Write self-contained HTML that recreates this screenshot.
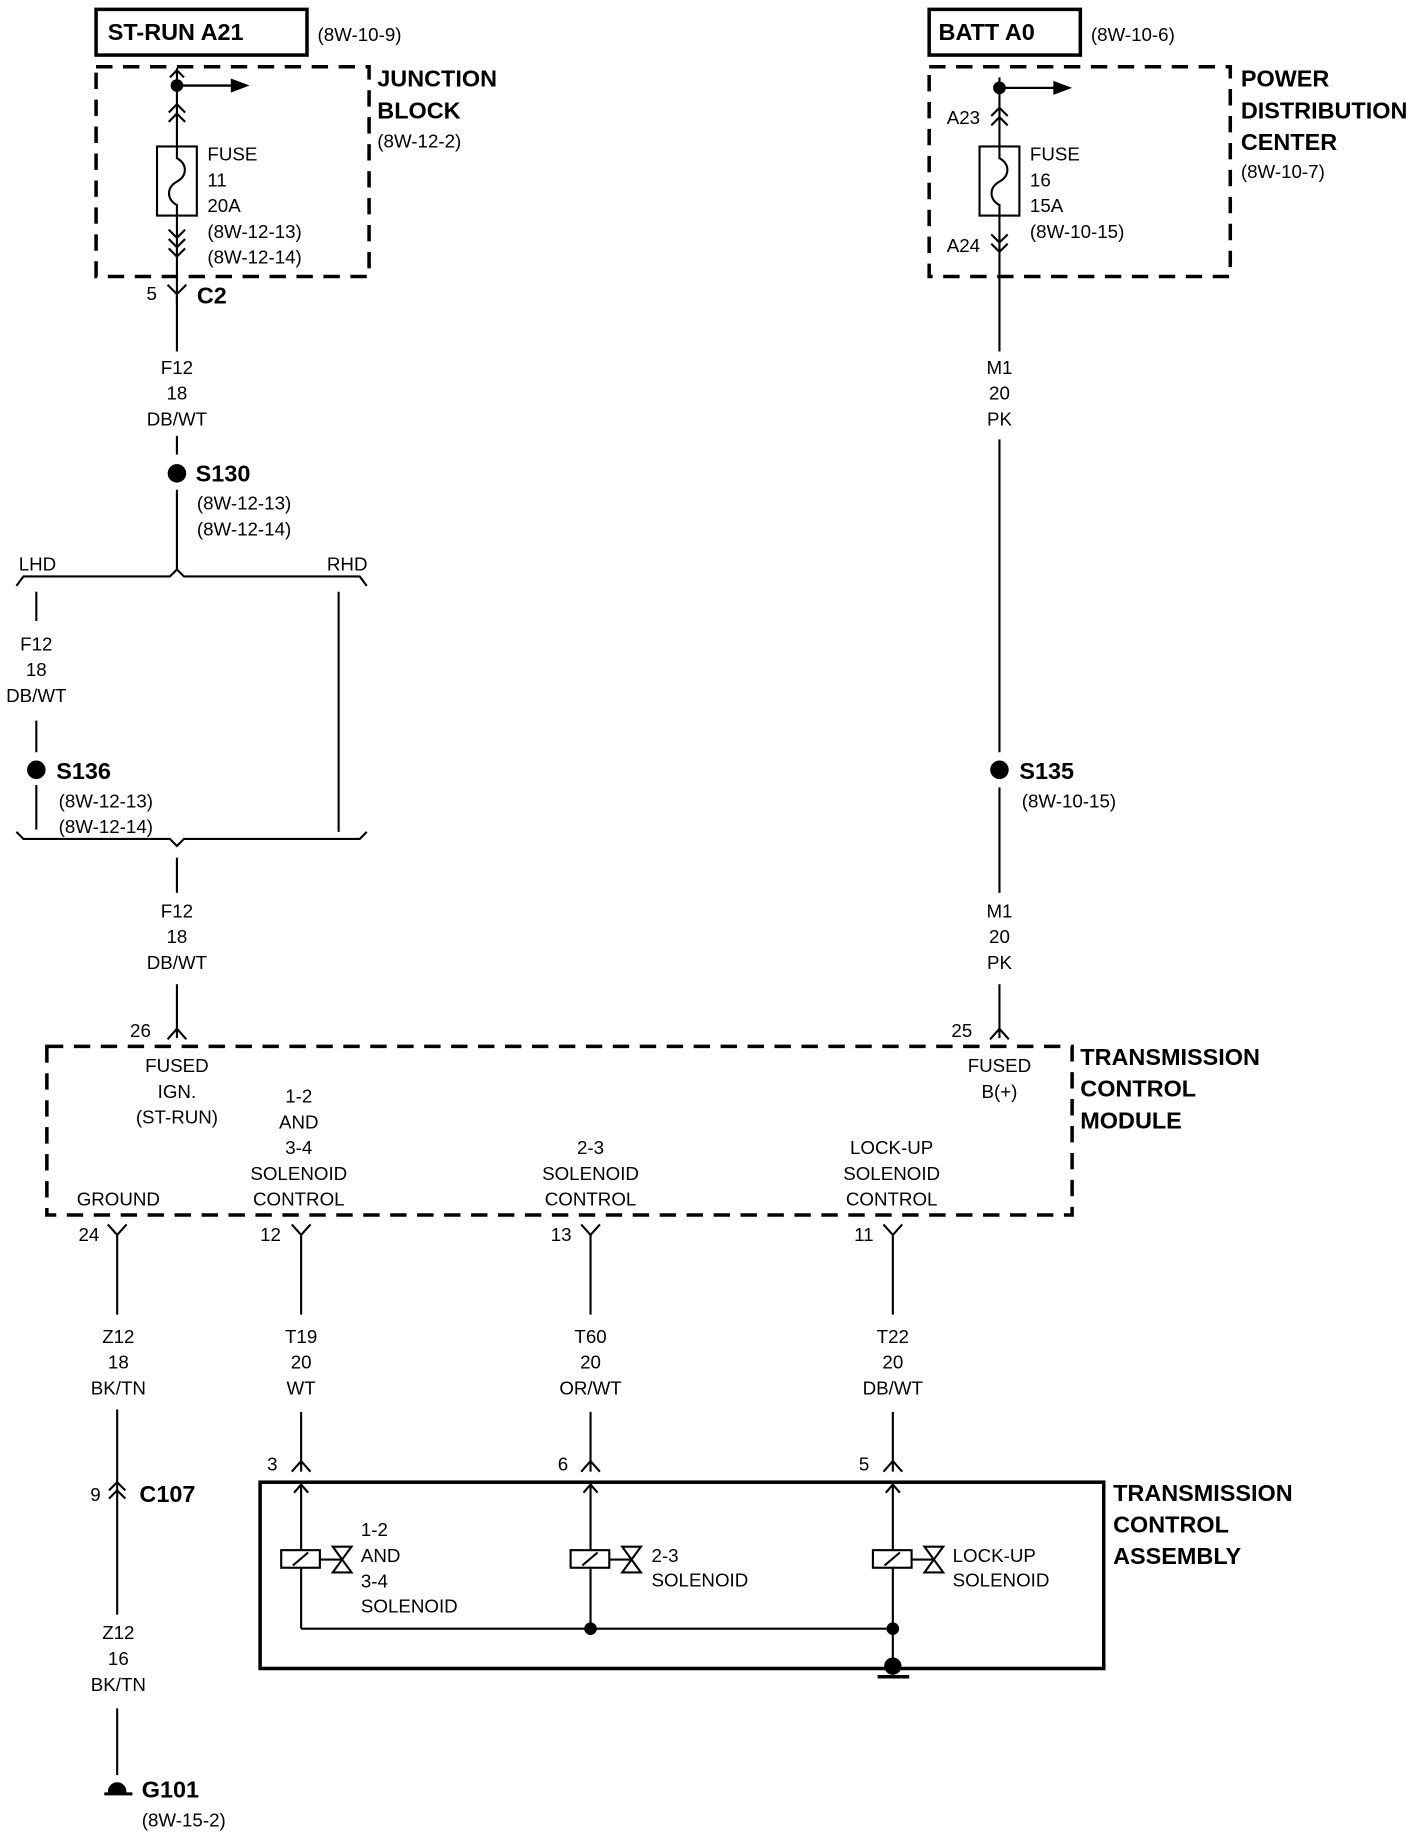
<!DOCTYPE html>
<html><head><meta charset="utf-8"><style>
html,body{margin:0;padding:0;background:#fff;}
svg{display:block;}
text{font-family:"Liberation Sans Narrow","Liberation Sans",sans-serif;fill:#000;}
.r{font-size:16px;}
.b{font-size:20px;font-weight:bold;}
.c{text-anchor:middle;}
</style></head><body>
<svg width="1424" height="1836" viewBox="0 0 1424 1836" xmlns="http://www.w3.org/2000/svg">
<g transform="scale(1.1717)" stroke="#000" fill="none" stroke-width="1.8">
<rect x="82" y="8" width="180" height="39" stroke-width="3"/>
<rect x="82" y="57" width="233" height="179" stroke-width="3" stroke-dasharray="14 9"/>
<line x1="151" y1="58" x2="151" y2="260"/>
<polyline points="145,66 151,60 157,66"/>
<circle cx="151" cy="73" r="4.5" fill="#000"/>
<line x1="151" y1="73" x2="198" y2="73" stroke-width="2"/>
<polygon points="197,67 213,73 197,79" fill="#000" stroke="none"/>
<polyline points="144,96 151,89 158,96"/><polyline points="144,104 151,97 158,104"/>
<rect x="134" y="125" width="34" height="59" fill="#fff"/>
<path d="M151 125 V135 C160 140 160 150 151 155 C142 160 142 170 151 175 V184"/>
<polyline points="144,196 151,203 158,196"/><polyline points="144,204 151,211 158,204"/><polyline points="144,212 151,219 158,212"/>
<polyline points="143,243 151,251 159,243"/>
<line x1="151" y1="251" x2="151" y2="300"/>
<line x1="151" y1="372" x2="151" y2="388"/>
<circle cx="151" cy="404" r="7" fill="#000"/>
<line x1="151" y1="418" x2="151" y2="486"/>
<polyline points="14,500 20,492 145,492 151,486 157,492 307,492 313,500"/>
<line x1="31" y1="505" x2="31" y2="530"/>
<line x1="31" y1="615" x2="31" y2="642"/>
<circle cx="31" cy="657" r="7" fill="#000"/>
<line x1="31" y1="670" x2="31" y2="708"/>
<line x1="289" y1="505" x2="289" y2="710"/>
<polyline points="14,710 20,716 145,716 151,722 157,716 307,716 313,710"/>
<line x1="151" y1="732" x2="151" y2="762"/>
<line x1="151" y1="840" x2="151" y2="886"/>
<polyline points="143,887 151,878 159,887"/>
<rect x="793" y="8" width="129" height="39" stroke-width="3"/>
<rect x="793" y="57" width="257" height="179" stroke-width="3" stroke-dasharray="14 9"/>
<line x1="853" y1="66" x2="853" y2="300"/>
<circle cx="853" cy="75" r="4.5" fill="#000"/>
<line x1="853" y1="75" x2="900" y2="75" stroke-width="2"/>
<polygon points="899,69 915,75 899,81" fill="#000" stroke="none"/>
<polyline points="846,99 853,92 860,99"/><polyline points="846,107 853,100 860,107"/>
<rect x="836" y="125" width="34" height="59" fill="#fff"/>
<path d="M853 125 V135 C862 140 862 150 853 155 C844 160 844 170 853 175 V184"/>
<polyline points="846,200 853,207 860,200"/><polyline points="846,208 853,215 860,208"/>
<line x1="853" y1="375" x2="853" y2="642"/>
<circle cx="853" cy="657" r="7" fill="#000"/>
<line x1="853" y1="672" x2="853" y2="762"/>
<line x1="853" y1="840" x2="853" y2="886"/>
<polyline points="845,887 853,878 861,887"/>
<rect x="40" y="893" width="875" height="144" stroke-width="3" stroke-dasharray="14 9"/>
<g>
<polyline points="92,1045 100,1054 108,1045"/><line x1="100" y1="1054" x2="100" y2="1122"/>
<polyline points="249,1045 257,1054 265,1045"/><line x1="257" y1="1054" x2="257" y2="1122"/>
<polyline points="496,1045 504,1054 512,1045"/><line x1="504" y1="1054" x2="504" y2="1122"/>
<polyline points="754,1045 762,1054 770,1045"/><line x1="762" y1="1054" x2="762" y2="1122"/>
</g>
<line x1="100" y1="1203" x2="100" y2="1272"/>
<polyline points="93,1272 100,1265 107,1272"/><polyline points="93,1279 100,1272 107,1279"/>
<line x1="100" y1="1272" x2="100" y2="1378"/>
<line x1="100" y1="1458" x2="100" y2="1515"/>
<path d="M93 1529 A7 7 0 0 1 107 1529 Z" fill="#000"/>
<line x1="89" y1="1531" x2="113" y2="1531" stroke-width="2.5"/>
<g>
<line x1="257" y1="1205" x2="257" y2="1256"/><polyline points="249,1256 257,1247 265,1256"/>
<line x1="504" y1="1205" x2="504" y2="1256"/><polyline points="496,1256 504,1247 512,1256"/>
<line x1="762" y1="1205" x2="762" y2="1256"/><polyline points="754,1256 762,1247 770,1256"/>
</g>
<rect x="222" y="1265" width="720" height="159" stroke-width="3"/>
<g>
<line x1="257" y1="1266" x2="257" y2="1390"/><polyline points="251,1274 257,1267 263,1274"/>
<line x1="504" y1="1266" x2="504" y2="1390"/><polyline points="498,1274 504,1267 510,1274"/>
<line x1="762" y1="1266" x2="762" y2="1424"/><polyline points="756,1274 762,1267 768,1274"/>
<line x1="257" y1="1390" x2="762" y2="1390"/>
<circle cx="504" cy="1390" r="4.5" fill="#000"/><circle cx="762" cy="1390" r="4.5" fill="#000"/>
<circle cx="762" cy="1422" r="6.5" fill="#000"/>
<line x1="749" y1="1431" x2="776" y2="1431" stroke-width="3"/>
<g stroke-width="1.8">
<rect x="240" y="1323" width="33" height="15" fill="#fff"/><line x1="250" y1="1336" x2="263" y2="1325"/><line x1="273" y1="1331" x2="292" y2="1331"/><polygon points="284,1320 300,1320 284,1342 300,1342"/>
<rect x="487" y="1323" width="33" height="15" fill="#fff"/><line x1="497" y1="1336" x2="510" y2="1325"/><line x1="520" y1="1331" x2="539" y2="1331"/><polygon points="531,1320 547,1320 531,1342 547,1342"/>
<rect x="745" y="1323" width="33" height="15" fill="#fff"/><line x1="755" y1="1336" x2="768" y2="1325"/><line x1="778" y1="1331" x2="797" y2="1331"/><polygon points="789,1320 805,1320 789,1342 805,1342"/>
</g>
</g>
</g>
<g transform="scale(1.1717)" stroke="none">
<text class="b" x="92" y="34">ST-RUN A21</text>
<text class="r" x="271" y="35">(8W-10-9)</text>
<text class="b" x="322" y="74">JUNCTION</text>
<text class="b" x="322" y="101">BLOCK</text>
<text class="r" x="322" y="126">(8W-12-2)</text>
<text class="r" x="177" y="137">FUSE</text><text class="r" x="177" y="159">11</text><text class="r" x="177" y="181">20A</text><text class="r" x="177" y="203">(8W-12-13)</text><text class="r" x="177" y="225">(8W-12-14)</text>
<text class="r" x="125" y="256">5</text><text class="b" x="168" y="259">C2</text>
<text class="r c" x="151" y="319">F12</text><text class="r c" x="151" y="341">18</text><text class="r c" x="151" y="363">DB/WT</text>
<text class="b" x="167" y="411">S130</text>
<text class="r" x="168" y="435">(8W-12-13)</text><text class="r" x="168" y="457">(8W-12-14)</text>
<text class="r" x="16" y="487">LHD</text><text class="r" x="279" y="487">RHD</text>
<text class="r c" x="31" y="555">F12</text><text class="r c" x="31" y="577">18</text><text class="r c" x="31" y="599">DB/WT</text>
<text class="b" x="48" y="665">S136</text>
<text class="r" x="50" y="689">(8W-12-13)</text><text class="r" x="50" y="711">(8W-12-14)</text>
<text class="r c" x="151" y="783">F12</text><text class="r c" x="151" y="805">18</text><text class="r c" x="151" y="827">DB/WT</text>
<text class="r" x="111" y="885">26</text>
<text class="b" x="801" y="34">BATT A0</text>
<text class="r" x="931" y="35">(8W-10-6)</text>
<text class="b" x="1059" y="74">POWER</text><text class="b" x="1059" y="101">DISTRIBUTION</text><text class="b" x="1059" y="128">CENTER</text>
<text class="r" x="1059" y="152">(8W-10-7)</text>
<text class="r" x="808" y="106">A23</text><text class="r" x="808" y="215">A24</text>
<text class="r" x="879" y="137">FUSE</text><text class="r" x="879" y="159">16</text><text class="r" x="879" y="181">15A</text><text class="r" x="879" y="203">(8W-10-15)</text>
<text class="r c" x="853" y="319">M1</text><text class="r c" x="853" y="341">20</text><text class="r c" x="853" y="363">PK</text>
<text class="b" x="870" y="665">S135</text><text class="r" x="872" y="689">(8W-10-15)</text>
<text class="r c" x="853" y="783">M1</text><text class="r c" x="853" y="805">20</text><text class="r c" x="853" y="827">PK</text>
<text class="r" x="812" y="885">25</text>
<text class="r c" x="151" y="915">FUSED</text><text class="r c" x="151" y="937">IGN.</text><text class="r c" x="151" y="959">(ST-RUN)</text>
<text class="r c" x="853" y="915">FUSED</text><text class="r c" x="853" y="937">B(+)</text>
<text class="r c" x="255" y="941">1-2</text><text class="r c" x="255" y="963">AND</text><text class="r c" x="255" y="985">3-4</text><text class="r c" x="255" y="1007">SOLENOID</text><text class="r c" x="255" y="1029">CONTROL</text>
<text class="r c" x="101" y="1029">GROUND</text>
<text class="r c" x="504" y="985">2-3</text><text class="r c" x="504" y="1007">SOLENOID</text><text class="r c" x="504" y="1029">CONTROL</text>
<text class="r c" x="761" y="985">LOCK-UP</text><text class="r c" x="761" y="1007">SOLENOID</text><text class="r c" x="761" y="1029">CONTROL</text>
<text class="b" x="922" y="909">TRANSMISSION</text><text class="b" x="922" y="936">CONTROL</text><text class="b" x="922" y="963">MODULE</text>
<text class="r" x="67" y="1059">24</text><text class="r" x="222" y="1059">12</text><text class="r" x="470" y="1059">13</text><text class="r" x="729" y="1059">11</text>
<text class="r c" x="101" y="1146">Z12</text><text class="r c" x="101" y="1168">18</text><text class="r c" x="101" y="1190">BK/TN</text>
<text class="r c" x="257" y="1146">T19</text><text class="r c" x="257" y="1168">20</text><text class="r c" x="257" y="1190">WT</text>
<text class="r c" x="504" y="1146">T60</text><text class="r c" x="504" y="1168">20</text><text class="r c" x="504" y="1190">OR/WT</text>
<text class="r c" x="762" y="1146">T22</text><text class="r c" x="762" y="1168">20</text><text class="r c" x="762" y="1190">DB/WT</text>
<text class="r" x="77" y="1281">9</text><text class="b" x="119" y="1282">C107</text>
<text class="r c" x="101" y="1399">Z12</text><text class="r c" x="101" y="1421">16</text><text class="r c" x="101" y="1443">BK/TN</text>
<text class="b" x="121" y="1534">G101</text><text class="r" x="121" y="1559">(8W-15-2)</text>
<text class="r" x="228" y="1255">3</text><text class="r" x="476" y="1255">6</text><text class="r" x="733" y="1255">5</text>
<text class="b" x="950" y="1281">TRANSMISSION</text><text class="b" x="950" y="1308">CONTROL</text><text class="b" x="950" y="1335">ASSEMBLY</text>
<text class="r" x="308" y="1311">1-2</text><text class="r" x="308" y="1333">AND</text><text class="r" x="308" y="1355">3-4</text><text class="r" x="308" y="1376">SOLENOID</text>
<text class="r" x="556" y="1333">2-3</text><text class="r" x="556" y="1354">SOLENOID</text>
<text class="r" x="813" y="1333">LOCK-UP</text><text class="r" x="813" y="1354">SOLENOID</text>
</g>
</svg>
</body></html>
